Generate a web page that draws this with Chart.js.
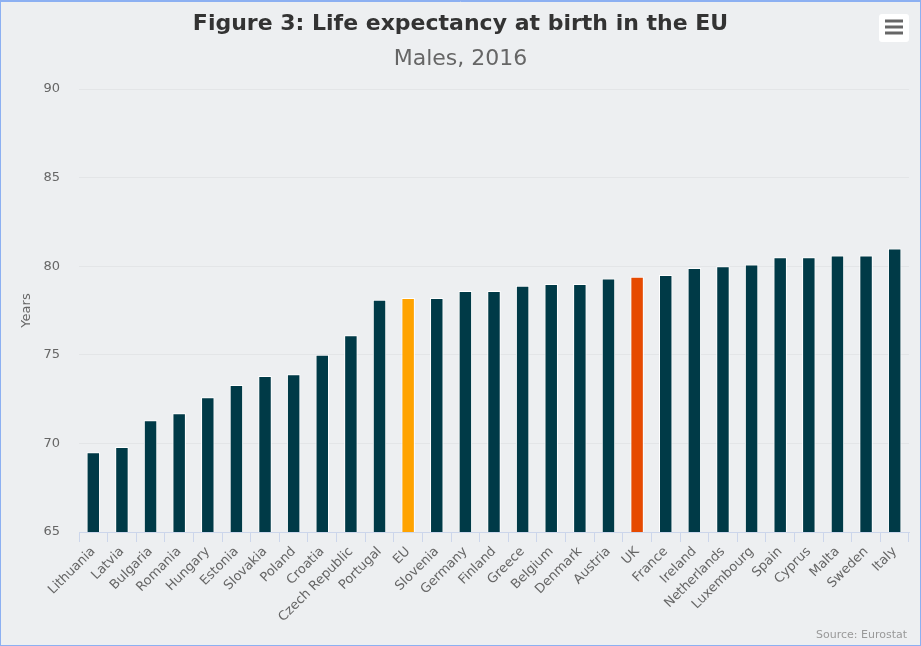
<!DOCTYPE html>
<html>
<head>
<meta charset="utf-8">
<title>Life expectancy at birth in the EU</title>
<script src="https://cdn.jsdelivr.net/npm/chart.js@4/dist/chart.umd.min.js"></script>
<style>
  html, body { margin: 0; padding: 0; background: #edeff1; }
  canvas { display: block; }
</style>
</head>
<body>
<canvas id="lifeChart" width="921" height="646"></canvas>
<script>
  const countries = [
    'Lithuania', 'Latvia', 'Bulgaria', 'Romania', 'Hungary', 'Estonia',
    'Slovakia', 'Poland', 'Croatia', 'Czech Republic', 'Portugal', 'EU',
    'Slovenia', 'Germany', 'Finland', 'Greece', 'Belgium', 'Denmark',
    'Austria', 'UK', 'France', 'Ireland', 'Netherlands', 'Luxembourg',
    'Spain', 'Cyprus', 'Malta', 'Sweden', 'Italy'
  ];

  const lifeExpectancy = [
    69.5, 69.8, 71.3, 71.7, 72.6, 73.3,
    73.8, 73.9, 75.0, 76.1, 78.1, 78.2,
    78.2, 78.6, 78.6, 78.9, 79.0, 79.0,
    79.3, 79.4, 79.5, 79.9, 80.0, 80.1,
    80.5, 80.5, 80.6, 80.6, 81.0
  ];

  const yTicks = [65, 70, 75, 80, 85, 90];

  // highlight colours
  const barColor = '#003a47';
  const highlight = { 'EU': '#ffa300', 'UK': '#e64a00' };

  const chartBackground = {
    id: 'chartBackground',
    beforeDraw(chart) {
      const c = chart.ctx;
      c.save();
      c.fillStyle = '#edeff1';
      c.fillRect(0, 0, chart.width, chart.height);
      c.restore();
    },
    afterDraw(chart) {
      const c = chart.ctx;
      c.save();
      // source credit
      c.font = '11px "DejaVu Sans"';
      c.fillStyle = '#999999';
      c.textAlign = 'right';
      c.textBaseline = 'middle';
      c.fillText('Source: Eurostat', 907, 635);

      // context menu button
      c.fillStyle = '#ffffff';
      c.beginPath();
      c.roundRect(879, 14, 30, 28, 3);
      c.fill();
      c.strokeStyle = '#666666';
      c.lineWidth = 3;
      [21, 27, 33].forEach(function (y) {
        c.beginPath();
        c.moveTo(885, y);
        c.lineTo(903, y);
        c.stroke();
      });

      // frame
      c.strokeStyle = '#8cb0f2';
      c.lineWidth = 1;
      c.strokeRect(0.5, 0.5, chart.width - 1, chart.height - 1);
      c.beginPath();
      c.moveTo(0, 1.5);
      c.lineTo(chart.width, 1.5);
      c.stroke();
      c.restore();
    }
  };

  const ctx = document.getElementById('lifeChart');
  const lifeChart = new Chart(ctx, {
    type: 'bar',
    data: {
      labels: countries,
      datasets: [{
        data: lifeExpectancy,
        backgroundColor: countries.map(function (name) { return highlight[name] || barColor; }),
        borderColor: '#ffffff',
        borderWidth: 1,
        barPercentage: 0.47,
        categoryPercentage: 1
      }]
    },
    options: {
      responsive: false,
      animation: false,
      layout: { padding: 0 },
      plugins: {
        legend: { display: false },
        tooltip: { enabled: false },
        title: {
          display: true,
          text: 'Figure 3: Life expectancy at birth in the EU',
          color: '#333333',
          font: { family: 'DejaVu Sans', size: 22, weight: 'bold', lineHeight: 1.2 },
          padding: { top: 11, bottom: 0 }
        },
        subtitle: {
          display: true,
          text: 'Males, 2016',
          color: '#666666',
          font: { family: 'DejaVu Sans', size: 22, lineHeight: 1.2 },
          padding: { top: 9, bottom: 16.2 }
        }
      },
      scales: {
        x: {
          grid: {
            display: true,
            drawOnChartArea: false,
            color: '#ccd6eb',
            tickLength: 10,
            offset: true
          },
          border: { display: true, color: '#ccd6eb' },
          ticks: {
            autoSkip: false,
            minRotation: 45,
            maxRotation: 45,
            padding: 2,
            color: '#666666',
            font: { family: 'DejaVu Sans', size: 13 }
          },
          afterFit: function (scale) { scale.height = 114; }
        },
        y: {
          min: 65,
          max: 90,
          afterBuildTicks: function (scale) {
            scale.ticks = yTicks.map(function (v) { return { value: v }; });
          },
          grid: { color: '#e3e5e7', drawTicks: false },
          border: { display: false },
          ticks: {
            padding: 19,
            color: '#666666',
            font: { family: 'DejaVu Sans', size: 13 }
          },
          title: {
            display: true,
            text: 'Years',
            color: '#666666',
            font: { family: 'DejaVu Sans', size: 13 },
            padding: { top: 19, bottom: 0 }
          },
          afterFit: function (scale) { scale.width = 79; }
        },
        // empty right margin so the titles stay centred on the whole canvas
        spacer: {
          type: 'linear',
          position: 'right',
          grid: { display: false },
          border: { display: false },
          ticks: { display: false },
          afterFit: function (scale) { scale.width = 12; }
        }
      }
    },
    plugins: [chartBackground]
  });
</script>
</body>
</html>
